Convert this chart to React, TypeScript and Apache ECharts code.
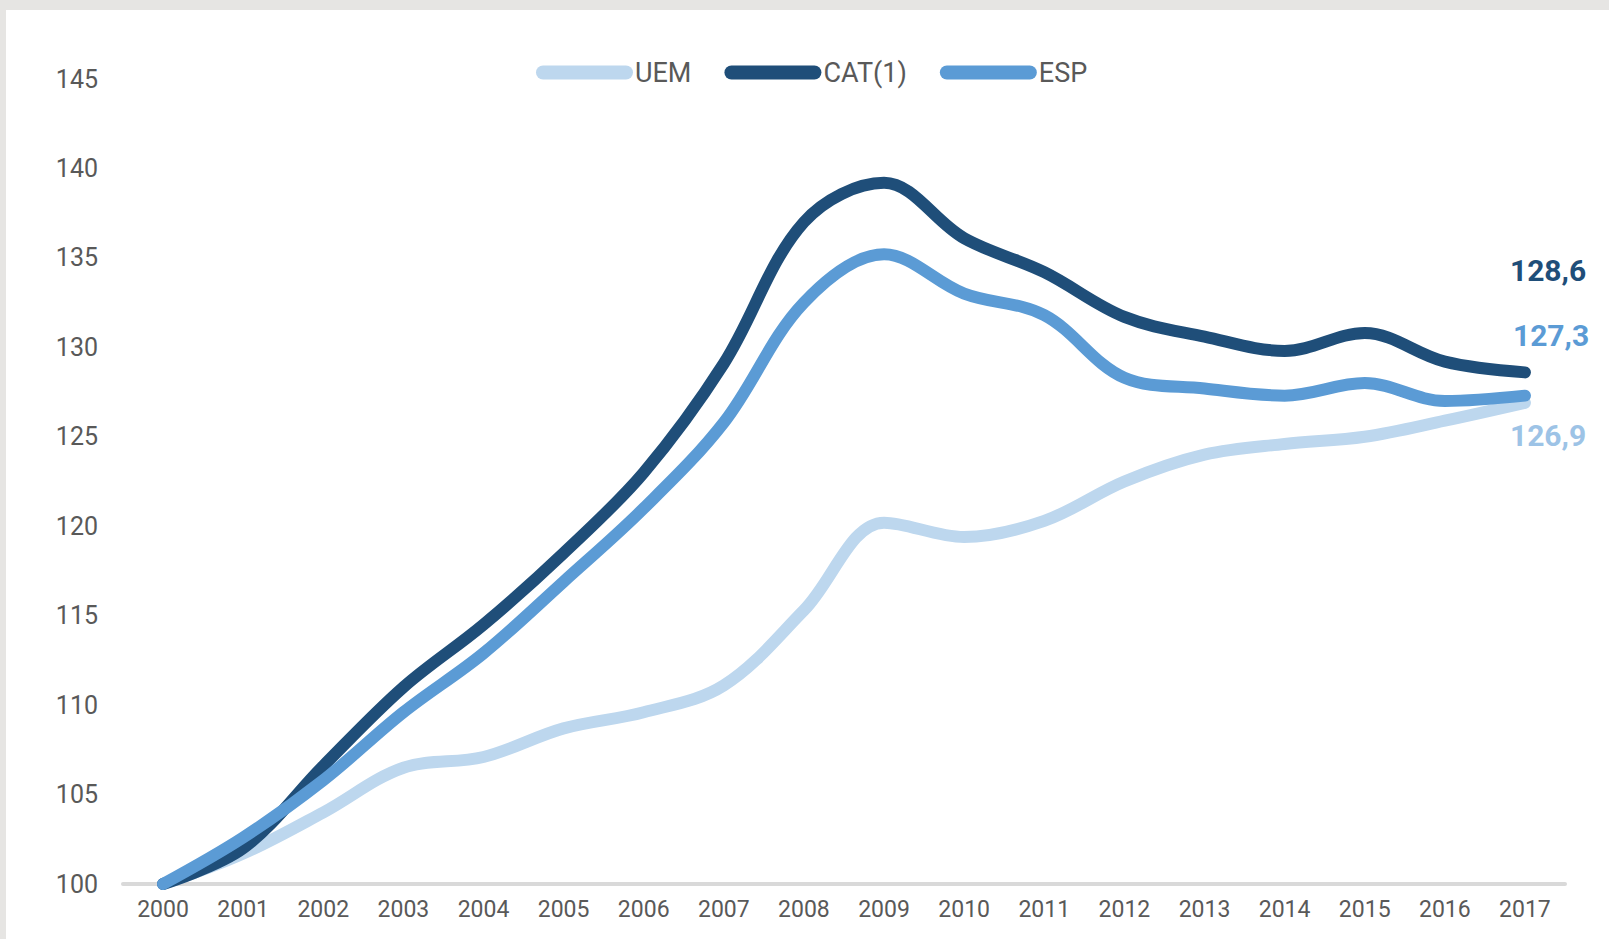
import React, { useEffect, useRef } from "react";
import * as echarts from "echarts";

const years = ["2000","2001","2002","2003","2004","2005","2006","2007","2008","2009","2010","2011","2012","2013","2014","2015","2016","2017"];
const uem = [100, 101.7, 104.0, 106.5, 107.1, 108.7, 109.6, 111.1, 115.3, 120.2, 119.4, 120.3, 122.5, 124.0, 124.6, 125.0, 125.9, 126.9];
const cat = [100, 102.0, 106.6, 111.0, 114.5, 118.5, 123.0, 129.1, 137.0, 139.2, 136.1, 134.2, 131.7, 130.6, 129.8, 130.8, 129.2, 128.6];
const esp = [100, 102.6, 105.8, 109.6, 112.9, 116.9, 121.0, 125.8, 132.5, 135.2, 133.0, 131.8, 128.3, 127.7, 127.3, 128.0, 127.0, 127.3];
const seriesNames = ["UEM", "CAT(1)", "ESP"];

const FONT = 'Roboto, "Noto Sans", sans-serif';
const C_UEM = "#bdd7ee";
const C_CAT = "#1f4e79";
const C_ESP = "#5b9bd5";

const pill = "path://M7,0 L90,0 A7,7 0 0 1 90,14 L7,14 A7,7 0 0 1 7,0 Z";

export default function App() {
  const ref = useRef<HTMLDivElement>(null);
  useEffect(() => {
    if (!ref.current) return;
    const chart = echarts.init(ref.current, null, { renderer: "svg" });
    const fmt = (p: any) => String(p.value).replace(".", ",");
    const mkSeries = (name: string, data: number[], color: string, labelColor: string, offset: number[]) => ({
      name,
      type: "line",
      data,
      smooth: 0.35,
      showSymbol: false,
      symbol: "none",
      lineStyle: { color, width: 12, cap: "round", join: "round" },
      itemStyle: { color },
      endLabel: {
        show: true,
        formatter: fmt,
        color: labelColor,
        fontFamily: FONT,
        fontSize: 30,
        fontWeight: "bold",
        align: "left",
        verticalAlign: "middle",
        distance: 0,
        offset,
      },
      z: 2,
    });
    chart.setOption({
      animation: false,
      backgroundColor: "#ffffff",
      graphic: [
        { type: "rect", shape: { x: 0, y: 0, width: 1609, height: 10 }, style: { fill: "#e6e5e3" }, silent: true },
        { type: "rect", shape: { x: 0, y: 0, width: 6, height: 939 }, style: { fill: "#e6e5e3" }, silent: true },
      ],
      legend: {
        left: 531,
        top: 54,
        itemWidth: 97,
        itemHeight: 14,
        itemGap: 33,
        icon: pill,
        data: seriesNames,
        textStyle: { fontFamily: FONT, fontSize: 27, color: "#595959", padding: [0, 0, 0, -3] },
      },
      grid: { left: 123, right: 44, top: 79, bottom: 55, containLabel: false },
      xAxis: {
        type: "category",
        data: years,
        boundaryGap: true,
        axisLine: { show: true, lineStyle: { color: "#d9d9d9", width: 4 } },
        axisTick: { show: false },
        axisLabel: { fontFamily: FONT, fontSize: 23, color: "#595959", margin: 14, interval: 0 },
        splitLine: { show: false },
      },
      yAxis: {
        type: "value",
        min: 100,
        max: 145,
        interval: 5,
        axisLine: { show: false },
        axisTick: { show: false },
        splitLine: { show: false },
        axisLabel: { fontFamily: FONT, fontSize: 25, color: "#595959", margin: 25 },
      },
      series: [
        mkSeries(seriesNames[0], uem, C_UEM, "#9dc3e6", [-15, 33]),
        mkSeries(seriesNames[1], cat, C_CAT, C_CAT, [-15, -102]),
        mkSeries(seriesNames[2], esp, C_ESP, C_ESP, [-12, -60]),
      ],
    });
    return () => chart.dispose();
  }, []);
  return (
    <div style={{ position: "absolute", left: 0, top: 0, width: 1609, height: 939 }}>
      <div ref={ref} style={{ width: 1609, height: 939 }} />
    </div>
  );
}
